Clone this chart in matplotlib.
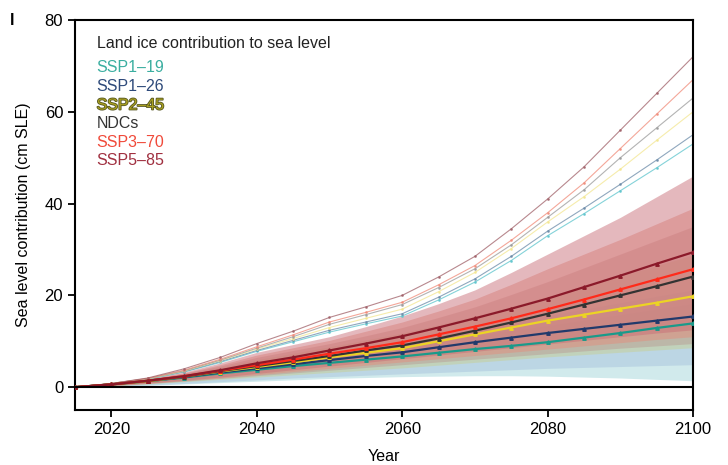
import matplotlib.pyplot as plt
import matplotlib.patheffects as pe
import numpy as np

plt.rcParams['font.family'] = ['Liberation Sans', 'DejaVu Sans']

years = np.arange(2015, 2101, 5)

scenarios = ["SSP1-19", "SSP1-26", "SSP2-45", "NDCs", "SSP3-70", "SSP5-85"]
labels = ["SSP1\u201319", "SSP1\u201326", "SSP2\u201345", "NDCs", "SSP3\u201370", "SSP5\u201385"]

# median projections (cm SLE)
med_119 = [0, 0.6, 1.3, 2.1, 3.0, 3.8, 4.6, 5.3, 6.0, 6.7, 7.5, 8.3, 9.0, 9.8, 10.8, 11.8, 12.9, 13.9]
med_126 = [0, 0.6, 1.3, 2.2, 3.2, 4.1, 5.0, 5.9, 6.8, 7.6, 8.7, 9.8, 10.8, 11.8, 12.7, 13.6, 14.5, 15.4]
med_245 = [0, 0.6, 1.3, 2.3, 3.4, 4.4, 5.4, 6.5, 7.5, 8.5, 10.0, 11.5, 13.0, 14.5, 15.8, 17.1, 18.4, 19.8]
med_ndc = [0, 0.6, 1.4, 2.3, 3.5, 4.6, 5.7, 6.8, 8.0, 9.1, 10.6, 12.3, 14.1, 16.0, 18.0, 20.0, 22.0, 24.1]
med_370 = [0, 0.6, 1.4, 2.4, 3.6, 4.8, 6.0, 7.3, 8.5, 9.8, 11.5, 13.2, 15.0, 17.0, 19.1, 21.3, 23.5, 25.7]
med_585 = [0, 0.6, 1.4, 2.4, 3.7, 5.2, 6.5, 8.0, 9.5, 11.1, 13.0, 15.0, 17.1, 19.3, 21.8, 24.3, 26.9, 29.4]

# likely range (shaded)
lo_119 = [0, 0.2, 0.4, 0.7, 1.0, 1.3, 1.6, 1.9, 2.1, 2.3, 2.4, 2.5, 2.5, 2.4, 2.2, 2.0, 1.7, 1.4]
hi_119 = [0, 0.6, 1.4, 2.4, 3.6, 4.8, 5.9, 7.0, 8.0, 9.0, 10.1, 11.2, 12.3, 13.4, 14.6, 15.8, 17.0, 18.2]
lo_126 = [0, 0.2, 0.5, 0.8, 1.2, 1.6, 2.0, 2.3, 2.6, 2.9, 3.2, 3.5, 3.8, 4.1, 4.3, 4.5, 4.7, 4.9]
hi_126 = [0, 0.7, 1.5, 2.6, 3.9, 5.3, 6.5, 7.7, 8.9, 10.0, 11.4, 12.8, 14.2, 15.6, 17.0, 18.4, 19.8, 21.2]
lo_245 = [0, 0.3, 0.7, 1.2, 1.7, 2.2, 2.7, 3.2, 3.7, 4.2, 4.8, 5.4, 6.0, 6.6, 7.1, 7.6, 8.1, 8.6]
hi_245 = [0, 0.7, 1.6, 2.8, 4.3, 6.0, 7.4, 8.8, 10.3, 11.8, 13.6, 15.5, 17.6, 19.8, 22.0, 24.2, 26.5, 28.8]
lo_ndc = [0, 0.3, 0.8, 1.3, 1.9, 2.5, 3.1, 3.7, 4.3, 4.9, 5.5, 6.1, 6.7, 7.3, 7.9, 8.5, 9.0, 9.5]
hi_ndc = [0, 0.7, 1.7, 3.0, 4.6, 6.5, 8.0, 9.5, 11.2, 13.0, 15.2, 17.5, 20.2, 23.0, 26.0, 29.0, 32.0, 35.0]
lo_370 = [0, 0.4, 0.8, 1.4, 2.0, 2.7, 3.4, 4.1, 4.8, 5.5, 6.2, 6.9, 7.6, 8.3, 9.0, 9.7, 10.4, 11.0]
hi_370 = [0, 0.7, 1.8, 3.1, 4.9, 7.0, 8.6, 10.2, 12.2, 14.2, 16.6, 19.2, 22.4, 25.8, 29.0, 32.2, 35.6, 39.0]
lo_585 = [0, 0.4, 0.9, 1.5, 2.2, 3.0, 3.8, 4.6, 5.4, 6.2, 7.0, 7.8, 8.6, 9.4, 10.2, 11.0, 11.8, 12.5]
hi_585 = [0, 0.8, 1.9, 3.3, 5.3, 7.6, 9.3, 11.0, 13.2, 15.5, 18.2, 21.2, 25.0, 29.0, 33.0, 37.0, 41.5, 46.0]

# high-end (thin lines)
up_119 = [0, 0.7, 1.7, 3.3, 5.4, 7.8, 9.9, 12.0, 13.8, 15.5, 19.0, 22.9, 27.6, 33.0, 37.8, 42.8, 47.8, 53.0]
up_126 = [0, 0.8, 1.8, 3.4, 5.6, 8.0, 10.2, 12.4, 14.2, 16.0, 19.6, 23.6, 28.5, 34.0, 39.0, 44.2, 49.5, 55.0]
up_245 = [0, 0.8, 1.8, 3.5, 5.8, 8.3, 10.6, 13.0, 15.0, 17.0, 20.8, 25.0, 30.2, 36.0, 41.5, 47.5, 53.8, 60.0]
up_ndc = [0, 0.8, 1.9, 3.6, 5.9, 8.5, 11.0, 13.7, 15.8, 18.0, 21.7, 25.8, 31.0, 37.0, 43.0, 50.0, 56.5, 63.0]
up_370 = [0, 0.8, 1.9, 3.7, 6.1, 8.8, 11.4, 14.2, 16.3, 18.5, 22.3, 26.5, 32.0, 38.0, 44.5, 52.0, 59.5, 67.0]
up_585 = [0, 0.8, 2.0, 4.0, 6.5, 9.5, 12.2, 15.2, 17.5, 20.0, 24.0, 28.5, 34.5, 41.0, 48.0, 56.0, 64.0, 72.0]

medians = [med_119, med_126, med_245, med_ndc, med_370, med_585]
lows = [lo_119, lo_126, lo_245, lo_ndc, lo_370, lo_585]
highs = [hi_119, hi_126, hi_245, hi_ndc, hi_370, hi_585]
uppers = [up_119, up_126, up_245, up_ndc, up_370, up_585]

line_colors = ["#1a9a8a", "#223a6b", "#ecd424", "#333333", "#ff2a1a", "#8b1a2a"]
band_colors = ["#9fd4d8", "#a6c2dc", "#c8cf90", "#b89a94", "#e48c7c", "#c86c76"]
upper_colors = ["#5cc4cc", "#6a8aa8", "#f3e690", "#9a9a9a", "#f08a78", "#a06068"]
text_colors = ["#3aaea0", "#2e4a7a", "#a8a020", "#333333", "#f04a3a", "#a03040"]

fig = plt.figure(figsize=(7.28, 4.65), dpi=100)
ax = fig.add_axes([0.103, 0.118, 0.849, 0.839])

for lo, hi, c in zip(lows, highs, band_colors):
    ax.fill_between(years, lo, hi, color=c, alpha=0.48, lw=0)

for up, c in zip(uppers, upper_colors):
    ax.plot(years, up, color=c, lw=0.8, alpha=0.75, marker='.', ms=2)

for med, c in zip(medians, line_colors):
    ax.plot(years, med, color=c, lw=1.6, marker='^', ms=2.5, zorder=5)

ax.axhline(0, color="black", lw=1.5, zorder=6)

ax.set_xlim(2015, 2100)
ax.set_ylim(-5, 80)
ax.set_xticks([2020, 2040, 2060, 2080, 2100])
ax.set_yticks([0, 20, 40, 60, 80])
ax.tick_params(labelsize=12, width=1.3, length=5, direction='out')
for s in ax.spines.values():
    s.set_linewidth(1.5)

ax.set_xlabel("Year", fontsize=11.5, labelpad=9)
ax.set_ylabel("Sea level contribution (cm SLE)", fontsize=11.5, labelpad=10)

ax.text(0.035, 0.941, "Land ice contribution to sea level", transform=ax.transAxes,
        fontsize=11.5, color="#222222", va="center")
for i, (lab, c) in enumerate(zip(labels, text_colors)):
    t = ax.text(0.035, 0.877 - i * 0.0475, lab, transform=ax.transAxes,
                fontsize=11.5, color=c, va="center")
    if lab.startswith("SSP2"):
        t.set_path_effects([pe.withStroke(linewidth=1.2, foreground="#555522")])

fig.text(0.014, 0.955, "l", fontsize=12, fontweight="bold", va="center")

fig.savefig("out.png", dpi=100)
